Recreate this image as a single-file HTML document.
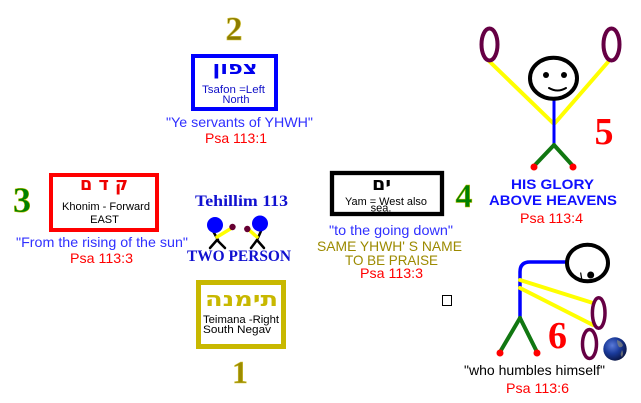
<!DOCTYPE html>
<html><head><meta charset="utf-8"><style>
html,body{margin:0;padding:0;background:#fff;}
svg{display:block;}
text{font-family:"Liberation Sans","DejaVu Sans",sans-serif;}
.s{font-family:"Liberation Serif","DejaVu Serif",serif;font-weight:bold;}
.h{font-family:"DejaVu Sans","Liberation Sans",sans-serif;font-weight:bold;}
</style></head><body>
<svg width="641" height="403" viewBox="0 0 641 403" xmlns="http://www.w3.org/2000/svg">
<defs>
<radialGradient id="g" cx="0.38" cy="0.35" r="0.7">
<stop offset="0" stop-color="#5a7ad8"/><stop offset="0.5" stop-color="#1a3a9a"/><stop offset="1" stop-color="#0a1440"/>
</radialGradient>
</defs>
<rect width="641" height="403" fill="#fff"/>

<!-- 2 North -->
<text class="s" x="234" y="40" font-size="34" text-anchor="middle" fill="#8c7c00" stroke="#d8c840" stroke-width="0.6">2</text>
<rect x="193" y="56" width="83" height="53" fill="#fff" stroke="#0000ff" stroke-width="4"/>
<text class="h" x="235" y="74" font-size="18" text-anchor="middle" fill="#0000ee" textLength="45" lengthAdjust="spacingAndGlyphs">צפון</text>
<text x="233.5" y="93" font-size="11" text-anchor="middle" fill="#1010c8" textLength="63" lengthAdjust="spacingAndGlyphs">Tsafon =Left</text>
<text x="236" y="103" font-size="11" text-anchor="middle" fill="#1010c8">North</text>
<text x="239.5" y="127" font-size="14" text-anchor="middle" fill="#3030ff" textLength="147" lengthAdjust="spacingAndGlyphs">"Ye servants of YHWH"</text>
<text x="236" y="143" font-size="14" text-anchor="middle" fill="#ff0000" textLength="62" lengthAdjust="spacingAndGlyphs">Psa 113:1</text>

<!-- 3 East -->
<text class="s" x="22" y="212" font-size="36" text-anchor="middle" fill="#008000" stroke="#c8c000" stroke-width="0.5">3</text>
<rect x="51" y="175" width="106" height="55" fill="#fff" stroke="#ff0000" stroke-width="4"/>
<text class="h" x="104" y="190" font-size="18" text-anchor="middle" fill="#ee0000" textLength="48" lengthAdjust="spacingAndGlyphs">ק ד ם</text>
<text x="106" y="210" font-size="11" text-anchor="middle" fill="#000" textLength="88" lengthAdjust="spacingAndGlyphs">Khonim - Forward</text>
<text x="104.5" y="223" font-size="11" text-anchor="middle" fill="#000">EAST</text>
<text x="102" y="247" font-size="14" text-anchor="middle" fill="#3030ff" textLength="172" lengthAdjust="spacingAndGlyphs">"From the rising of the sun"</text>
<text x="101.5" y="263" font-size="14" text-anchor="middle" fill="#ff0000" textLength="63" lengthAdjust="spacingAndGlyphs">Psa 113:3</text>

<!-- Center -->
<text class="s" x="241.5" y="206" font-size="16" text-anchor="middle" fill="#1010d0" textLength="93" lengthAdjust="spacingAndGlyphs">Tehillim 113</text>
<g stroke-linecap="round">
<line x1="213" y1="231" x2="218" y2="240" stroke="#000" stroke-width="2.5"/>
<line x1="217" y1="240" x2="210" y2="248" stroke="#000" stroke-width="2.5"/>
<line x1="217" y1="240" x2="225" y2="248" stroke="#000" stroke-width="2.5"/>
<line x1="217" y1="237" x2="231" y2="228.5" stroke="#ffff00" stroke-width="3.5"/>
<circle cx="215" cy="225" r="8" fill="#0000ff"/>
<circle cx="232.5" cy="227" r="3.2" fill="#660033"/>
<line x1="261" y1="231" x2="257" y2="240" stroke="#000" stroke-width="2.5"/>
<line x1="257" y1="240" x2="251" y2="248" stroke="#000" stroke-width="2.5"/>
<line x1="257" y1="240" x2="264" y2="248" stroke="#000" stroke-width="2.5"/>
<line x1="257" y1="237" x2="248" y2="229" stroke="#ffff00" stroke-width="3.5"/>
<circle cx="260" cy="223.5" r="8" fill="#0000ff"/>
<circle cx="247.3" cy="229" r="3.2" fill="#660033"/>
</g>
<text class="s" x="239" y="261" font-size="16" text-anchor="middle" fill="#1010d0" textLength="104" lengthAdjust="spacingAndGlyphs">TWO PERSON</text>

<!-- 1 South -->
<rect x="198.5" y="282.5" width="85" height="64" fill="#fff" stroke="#c8b800" stroke-width="5"/>
<text class="h" x="241.5" y="306" font-size="20" text-anchor="middle" fill="#c8b800" textLength="73" lengthAdjust="spacingAndGlyphs">תימנה</text>
<text x="241" y="323" font-size="11" text-anchor="middle" fill="#000" textLength="76" lengthAdjust="spacingAndGlyphs">Teimana -Right</text>
<text x="237" y="333" font-size="11" text-anchor="middle" fill="#000" textLength="68" lengthAdjust="spacingAndGlyphs">South Negav</text>
<text class="s" x="240" y="383" font-size="32" text-anchor="middle" fill="#9c8c00" stroke="#d8c840" stroke-width="0.5">1</text>

<!-- 4 West -->
<rect x="332" y="173" width="110" height="41" fill="#fff" stroke="#000" stroke-width="4.3"/>
<text class="h" x="381.5" y="190" font-size="18" text-anchor="middle" fill="#000" textLength="19" lengthAdjust="spacingAndGlyphs">ים</text>
<text x="386" y="205" font-size="11" text-anchor="middle" fill="#000" textLength="82" lengthAdjust="spacingAndGlyphs">Yam = West also</text>
<text x="381" y="211.5" font-size="11" text-anchor="middle" fill="#000">sea.</text>
<text class="s" x="464" y="207" font-size="34" text-anchor="middle" fill="#008000" stroke="#c8c000" stroke-width="0.5">4</text>
<text x="391" y="235" font-size="14" text-anchor="middle" fill="#3030ff" textLength="124" lengthAdjust="spacingAndGlyphs">"to the going down"</text>
<text x="389.5" y="251" font-size="14" text-anchor="middle" fill="#9c8a00" textLength="145" lengthAdjust="spacingAndGlyphs">SAME YHWH' S NAME</text>
<text x="391.5" y="265" font-size="14" text-anchor="middle" fill="#9c8a00" textLength="93" lengthAdjust="spacingAndGlyphs">TO BE PRAISE</text>
<text x="391.5" y="278" font-size="14" text-anchor="middle" fill="#ff0000" textLength="63" lengthAdjust="spacingAndGlyphs">Psa 113:3</text>
<rect x="442.5" y="295.5" width="9" height="10" fill="#fff" stroke="#000" stroke-width="1"/>

<!-- 5 figure -->
<g stroke-linecap="round" fill="none">
<line x1="553" y1="123" x2="489" y2="61" stroke="#ffff00" stroke-width="4"/>
<line x1="555" y1="123" x2="608" y2="62" stroke="#ffff00" stroke-width="4"/>
<ellipse cx="489.5" cy="44.5" rx="8" ry="16" stroke="#660044" stroke-width="4"/>
<ellipse cx="611.5" cy="44.5" rx="8" ry="16" stroke="#660044" stroke-width="4"/>
<line x1="554" y1="100" x2="554" y2="145" stroke="#0000ff" stroke-width="3"/>
<line x1="554" y1="145" x2="534" y2="166" stroke="#117711" stroke-width="4"/>
<line x1="554" y1="145" x2="573" y2="166" stroke="#117711" stroke-width="4"/>
<ellipse cx="553.5" cy="78.3" rx="23.5" ry="20.5" stroke="#000" stroke-width="4" fill="#fff"/>
<path d="M549 88 Q557.5 93 566 88" stroke="#000" stroke-width="2"/>
</g>
<circle cx="546" cy="75" r="3" fill="#000"/>
<circle cx="564" cy="75" r="3" fill="#000"/>
<circle cx="534" cy="167" r="3.5" fill="#ff0000"/>
<circle cx="573" cy="167" r="3.5" fill="#ff0000"/>
<text class="s" x="604" y="144" font-size="38" text-anchor="middle" fill="#ff0000">5</text>
<text x="552.5" y="189" font-size="14" font-weight="bold" text-anchor="middle" fill="#1010ff" textLength="83" lengthAdjust="spacingAndGlyphs">HIS GLORY</text>
<text x="553" y="205" font-size="14" font-weight="bold" text-anchor="middle" fill="#1010ff" textLength="128" lengthAdjust="spacingAndGlyphs">ABOVE HEAVENS</text>
<text x="551.5" y="223" font-size="14" text-anchor="middle" fill="#ff0000" textLength="63" lengthAdjust="spacingAndGlyphs">Psa 113:4</text>

<!-- 6 figure -->
<g stroke-linecap="round" fill="none">
<path d="M566 262 L530 262 Q520 262 520 272 L520 318" stroke="#0000ff" stroke-width="3.5"/>
<line x1="520" y1="280" x2="593" y2="303" stroke="#ffff00" stroke-width="4"/>
<line x1="520" y1="288" x2="593" y2="325" stroke="#ffff00" stroke-width="4"/>
<ellipse cx="598.7" cy="313" rx="6.3" ry="15.3" stroke="#660044" stroke-width="3.5"/>
<ellipse cx="589.5" cy="344" rx="7" ry="14.5" stroke="#660044" stroke-width="3.5"/>
<line x1="520" y1="318" x2="500" y2="352" stroke="#117711" stroke-width="4"/>
<line x1="520" y1="318" x2="537" y2="352" stroke="#117711" stroke-width="4"/>
<ellipse cx="587.5" cy="263" rx="20.5" ry="18.3" stroke="#000" stroke-width="4" fill="#fff"/>
<line x1="580.7" y1="273" x2="582" y2="281" stroke="#000" stroke-width="1.2"/>
</g>
<circle cx="590.7" cy="275" r="3.5" fill="#000"/>
<circle cx="500" cy="353" r="3.5" fill="#ff0000"/>
<circle cx="537" cy="353" r="3.5" fill="#ff0000"/>
<circle cx="615" cy="349" r="11.7" fill="url(#g)"/>
<path d="M617 340 q4 1 6 5 q-1 3 -4 2 q-2 -3 -2 -7z M622 350 q2 3 0 7 q-2 -2 -1 -4z" fill="#8a8a7a" opacity="0.7"/>
<text class="s" x="557.5" y="348" font-size="38" text-anchor="middle" fill="#ff0000">6</text>
<text x="534.5" y="375" font-size="14" text-anchor="middle" fill="#000" textLength="141" lengthAdjust="spacingAndGlyphs">"who humbles himself"</text>
<text x="537.5" y="393" font-size="14" text-anchor="middle" fill="#ff0000" textLength="63" lengthAdjust="spacingAndGlyphs">Psa 113:6</text>
</svg>
</body></html>
